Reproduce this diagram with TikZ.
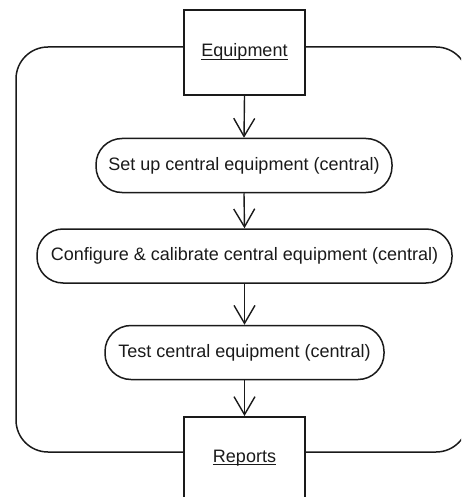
\documentclass[tikz,border=0pt]{standalone}
\usepackage{fontspec}
\setmainfont{Liberation Sans}
\usetikzlibrary{arrows.meta}
\definecolor{ink}{HTML}{1A1A1A}
\begin{document}
\begin{tikzpicture}[x=1pt,y=-1pt,
  every node/.style={font=\fontsize{18}{20}\selectfont, inner sep=0pt, text=ink},
  objbox/.style={draw=ink, line width=1.7pt, minimum width=121pt, minimum height=85pt, anchor=north},
  objlabel/.style={anchor=base},
  activity/.style={draw=ink, line width=1.5pt, rounded corners=26pt, minimum height=54pt},
  flow/.style={draw=ink, line width=1.4pt, -{Straight Barb[length=18pt,width=21pt,line width=1.4pt]}},
  loop/.style={draw=ink, line width=1.5pt, rounded corners=32pt},
  uline/.style={draw=ink, line width=1.1pt}]
\useasboundingbox (0,0) rectangle (461,497);
\clip (0,0) rectangle (461,497);

% object boxes
\node[objbox] (equip) at (244.5,9) {};
\node[objlabel] (equiplbl) at (244.5,57) {Equipment};
\draw[uline] ([yshift=-2.5pt]equiplbl.base west) -- ([yshift=-2.5pt]equiplbl.base east);

\node[objbox] (reports) at (244.5,416) {};
\node[objlabel] (reportslbl) at (244.5,462) {Reports};
\draw[uline] ([yshift=-2.5pt]reportslbl.base west) -- ([yshift=-2.5pt]reportslbl.base east);

% activities
\node[activity, minimum width=296pt] (setup) at (244,165.5) {Set up central equipment (central)};
\node[activity, minimum width=415pt] (config) at (244.5,256) {Configure \& calibrate central equipment (central)};
\node[activity, minimum width=279pt] (test) at (244.5,352.5) {Test central equipment (central)};

% control flow
\draw[flow] (equip.south) -- (setup.north);
\draw[flow] (setup.south) -- (config.north);
\draw[flow] (config.south) -- (test.north);
\draw[flow] (test.south) -- (reports.north);

% enclosing loop between the two object boxes
\coordinate (lt) at (16,47);
\coordinate (lb) at (16,452);
\coordinate (rt) at (468,47);
\coordinate (rb) at (468,452);
\draw[loop] (equip.west |- lt) -- (lt) -- (lb) -- (reports.west |- lb);
\draw[loop] (equip.east |- rt) -- (rt) -- (rb) -- (reports.east |- rb);
\end{tikzpicture}
\end{document}
